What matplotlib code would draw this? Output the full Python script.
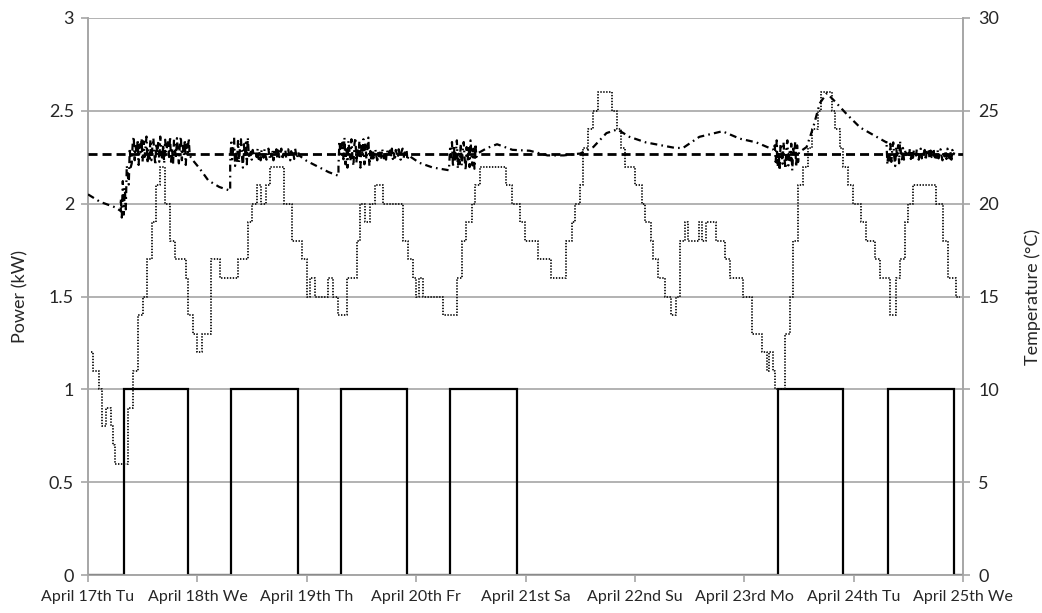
import numpy as np
import matplotlib
matplotlib.use("Agg")
import matplotlib.pyplot as plt

plt.rcParams['font.family'] = ['Lato', 'DejaVu Sans']
plt.rcParams['lines.scale_dashes'] = False

# ---------------- data ----------------
day_labels = ["April 17th Tu", "April 18th We", "April 19th Th", "April 20th Fr",
              "April 21st Sa", "April 22nd Su", "April 23rd Mo", "April 24th Tu",
              "April 25th We"]

# power on / off switching times (days from April 17th 00:00)
power_on = [0.33, 1.31, 2.31, 3.31, 6.31, 7.31]
power_off = [0.915, 1.917, 2.92, 3.92, 6.905, 7.92]
power_level = 1.0

# outdoor temperature: change points (hours) and values (degC), step-wise
out_hours = [0.6, 1, 2.5, 3, 4, 5, 5.5, 6, 8.7, 9.8, 11, 12, 13, 14, 15, 15.7, 17, 18, 19,
             21.5, 22, 23, 24, 25, 27, 29, 33, 35, 36, 37, 38, 39, 40, 42.9, 44.7, 46.9,
             48, 48.7, 49.8, 52.7, 53.8, 54.9, 56.9, 59, 59.7, 60.8, 61.9, 63, 64.8, 69.2,
             70.3, 71.4, 72, 72.7, 73.5, 78, 80.9, 82, 82.9, 84.2, 84.9, 86, 91.8, 93,
             94.8, 95.9, 98.8, 101.7, 104.8, 106.1, 106.8, 107.9, 108.6, 109.7, 110.8,
             111.9, 115, 116, 117, 117.8, 120, 121.5, 122.2, 123.6, 124, 125.1, 126.6,
             128, 129.1, 129.9, 131, 131.7, 134, 134.8, 135.7, 137.9, 139.7, 140.8, 143.7,
             145.6, 147.8, 148.9, 149.5, 150.2, 150.7, 152.9, 154, 154.7, 155.8, 156.9,
             158, 158.8, 160.2, 160.9, 163.3, 163.9, 165, 165.7, 166.8, 167.9, 169.7,
             170.8, 172.6, 173.7, 175.9, 177.2, 178.1, 179.2, 180, 181, 186, 187.6, 188.7,
             190.5, 191.4]
out_temp = [12, 11, 10, 8, 9, 8, 7, 6, 9, 11, 14, 15, 17, 19, 21, 22, 20, 18, 17,
            16, 14, 13, 12, 13, 17, 16, 17, 19, 20, 21, 20, 21, 22, 20, 18, 17,
            15, 16, 15, 16, 15, 14, 16, 18, 20, 19, 20, 21, 20, 18,
            17, 16, 15, 16, 15, 14, 16, 18, 19, 20, 21, 22, 21, 20,
            19, 18, 17, 16, 18, 19, 20, 21, 23, 24, 25,
            26, 25, 24, 23, 22, 21, 20, 19, 18, 17, 16, 15,
            14, 15, 18, 19, 18, 19, 18, 19, 18, 17, 16, 15,
            13, 12, 11, 12, 11, 10, 13, 15, 18, 21, 22,
            23, 24, 25, 26, 25, 24, 23, 22, 21, 20, 19,
            18, 17, 16, 14, 16, 17, 19, 20, 21, 20, 18, 16,
            15, 15]

# indoor temperature set point (degC)
setpoint = 22.7

# indoor temperature, free-floating parts (day, degC)
indoor_free = [
    [(0.00, 20.5), (0.11, 20.1), (0.25, 19.8), (0.30, 19.6)],
    [(0.93, 22.6), (0.95, 22.4), (1.02, 21.9), (1.10, 21.25), (1.20, 20.9), (1.30, 20.7)],
    [(1.93, 22.6), (2.00, 22.3), (2.10, 22.0), (2.20, 21.7), (2.29, 21.5)],
    [(2.93, 22.6), (3.03, 22.2), (3.15, 21.95), (3.30, 21.8)],
    [(3.56, 22.7), (3.65, 23.0), (3.74, 23.2), (3.88, 22.9), (4.04, 22.85), (4.20, 22.6),
     (4.35, 22.6), (4.50, 22.7), (4.62, 23.05), (4.74, 23.8), (4.84, 24.0), (4.95, 23.6),
     (5.10, 23.3), (5.37, 23.0), (5.44, 23.0), (5.59, 23.6), (5.80, 23.9), (5.96, 23.5),
     (6.11, 23.3), (6.27, 22.9)],
    [(6.51, 22.8), (6.57, 23.05), (6.63, 24.1), (6.69, 25.4), (6.755, 25.95), (6.83, 25.5),
     (6.94, 24.8), (7.06, 24.1), (7.18, 23.7), (7.30, 23.3)],
    [],
]
# indoor temperature, controlled parts: (start day, end day, level start, level end, swing)
indoor_ctrl = [
    [(0.30, 0.40, 19.5, 22.5, 1.3), (0.40, 0.93, 22.85, 22.85, 0.85)],
    [(1.30, 1.47, 22.75, 22.75, 0.9), (1.47, 1.93, 22.65, 22.65, 0.35)],
    [(2.29, 2.60, 22.75, 22.75, 0.9), (2.60, 2.93, 22.65, 22.65, 0.35)],
    [(3.31, 3.56, 22.6, 22.6, 0.9)],
    [(6.27, 6.51, 22.6, 22.6, 0.9)],
    [(7.30, 7.46, 22.7, 22.7, 0.75), (7.46, 7.93, 22.65, 22.65, 0.35)],
    [],
]
# hand-read sensor fluctuation pattern while controlled (fraction of swing)
jitter = [0.6, -0.4, 0.9, -0.7, 0.2, -0.9, 0.7, 0.1, -0.5, 0.8, -0.2, -0.8, 0.5, 0.9,
          -0.6, 0.3, -0.3, 0.7, -0.9, 0.4, -0.1, 0.8, -0.7, 0.6, -0.4, 0.2, 0.9, -0.8,
          0.1, -0.5, 0.7, -0.6, 0.3, 0.8, -0.2, -0.9, 0.5, -0.3, 0.6, -0.7, 0.9, 0.0,
          -0.6, 0.4, -0.8, 0.7, -0.1, 0.3]

# ---------------- figure ----------------
W, H = 1042, 613
fig = plt.figure(figsize=(W / 100, H / 100), dpi=100)
ax = fig.add_axes([88 / W, 1 - 575 / H, (963 - 88) / W, (575 - 18) / H])
ax2 = ax.twinx()

grid_c = '#a6a6a6'
txt_c = '#262626'
fs_x = 11.5
fs_y = 13
fs_lab = 13

# power
pt, pv = [0.0], [0.0]
for on, off in zip(power_on, power_off):
    pt += [on, on, off, off]
    pv += [0.0, power_level, power_level, 0.0]
pt.append(8.0)
pv.append(0.0)
ax.plot(pt, pv, color='black', lw=1.6, solid_joinstyle='miter', zorder=3)

# outdoor temperature
od = np.array(out_hours) / 24.0
ax2.plot(od, out_temp, drawstyle='steps-post', color='#111111', lw=1.3,
         linestyle=(0, (1.0, 1.1)), zorder=3)

# indoor temperature
it, iv = [], []
k = 0
for free, ctrl in zip(indoor_free, indoor_ctrl):
    for d, v in free:
        it.append(d)
        iv.append(v)
    for (t0, t1, l0, l1, sw) in ctrl:
        n = int(round((t1 - t0) / 0.009))
        for i in range(n):
            t = t0 + (t1 - t0) * i / n
            base = l0 + (l1 - l0) * i / n
            it.append(t)
            iv.append(base + sw * jitter[k % len(jitter)])
            k += 1
ax2.plot(it, iv, color='black', lw=1.6, linestyle=(0, (5.0, 3.0, 1.2, 3.0)), zorder=4)

# set point
ax2.plot([0, 8], [setpoint, setpoint], color='black', lw=2.0,
         linestyle=(0, (6.5, 3.6)), zorder=5)

# axes styling
ax.set_xlim(0, 8)
ax.set_ylim(0, 3)
ax2.set_ylim(0, 30)
ax.set_yticks(np.arange(0, 3.01, 0.5))
ax.set_yticklabels(['0', '0.5', '1', '1.5', '2', '2.5', '3'])
ax2.set_yticks(np.arange(0, 30.1, 5))
ax.set_xticks(range(9))
ax.set_xticklabels(day_labels)
ax.yaxis.grid(True, color=grid_c, lw=1.2)
ax.set_axisbelow(True)

for a in (ax, ax2):
    a.spines['top'].set_visible(False)
    for s in ('left', 'right', 'bottom'):
        a.spines[s].set_color(grid_c)
        a.spines[s].set_linewidth(1.2)
ax.tick_params(axis='y', length=5, width=1.2, color=grid_c, pad=5, labelsize=fs_y,
               labelcolor=txt_c)
ax2.tick_params(axis='y', length=5, width=1.2, color=grid_c, pad=6, labelsize=fs_y,
                labelcolor=txt_c)
ax.tick_params(axis='x', length=5, width=1.2, color=grid_c, pad=6, labelsize=fs_x,
               labelcolor=txt_c)

ax.set_ylabel('Power (kW)', fontsize=fs_lab, color=txt_c, labelpad=15)
ax2.set_ylabel('Temperature (°C)', fontsize=fs_lab, color=txt_c, rotation=90, labelpad=18)

fig.savefig('out.png', dpi=100)
